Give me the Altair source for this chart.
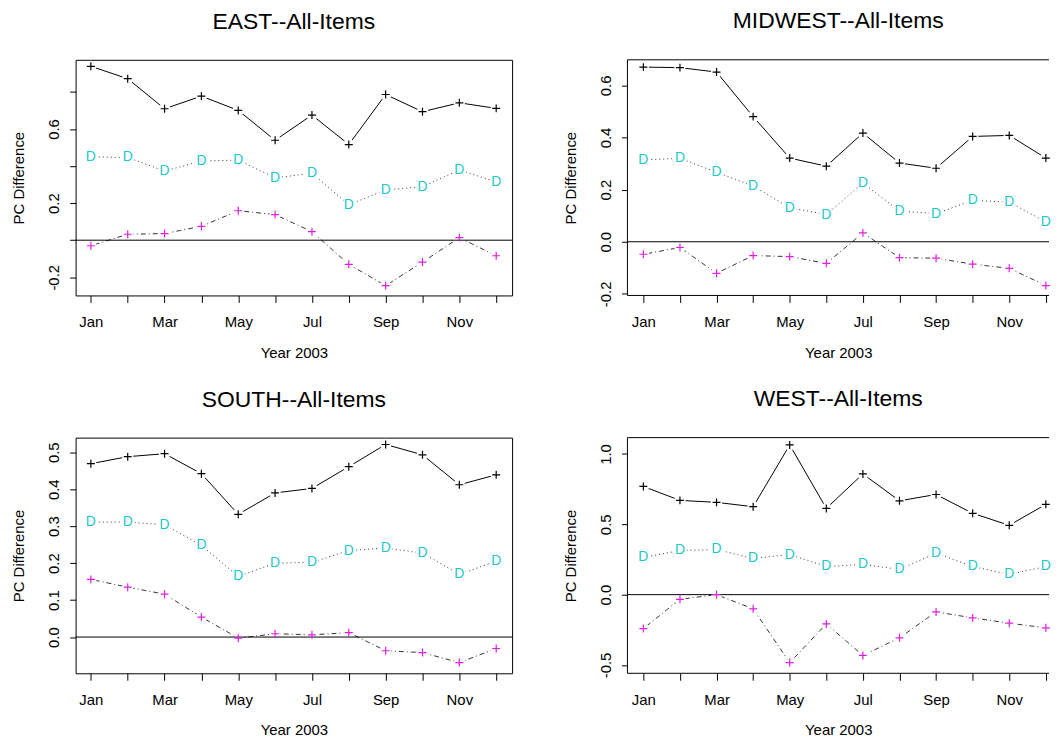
import altair as alt
import pandas as pd

months = ["Jan", "Feb", "Mar", "Apr", "May", "Jun", "Jul", "Aug", "Sep", "Oct", "Nov", "Dec"]
month_num = list(range(1, 13))

east_top = [0.938, 0.871, 0.709, 0.777, 0.700, 0.539, 0.675, 0.516, 0.786, 0.693, 0.741, 0.711]
east_mid = [0.450, 0.446, 0.373, 0.427, 0.432, 0.336, 0.361, 0.191, 0.271, 0.289, 0.379, 0.314]
east_bot = [-0.030, 0.032, 0.036, 0.075, 0.159, 0.138, 0.046, -0.130, -0.245, -0.118, 0.014, -0.084]

midwest_top = [0.670, 0.668, 0.651, 0.480, 0.321, 0.290, 0.417, 0.302, 0.282, 0.404, 0.408, 0.321]
midwest_mid = [0.314, 0.320, 0.267, 0.213, 0.131, 0.104, 0.225, 0.118, 0.108, 0.159, 0.152, 0.076]
midwest_bot = [-0.048, -0.022, -0.121, -0.053, -0.057, -0.083, 0.034, -0.061, -0.063, -0.086, -0.102, -0.168]

south_top = [0.469, 0.488, 0.496, 0.442, 0.332, 0.390, 0.402, 0.461, 0.521, 0.493, 0.412, 0.439]
south_mid = [0.311, 0.311, 0.304, 0.248, 0.164, 0.200, 0.202, 0.234, 0.241, 0.227, 0.170, 0.205]
south_bot = [0.156, 0.135, 0.116, 0.054, -0.003, 0.009, 0.006, 0.012, -0.037, -0.042, -0.069, -0.031]

west_top = [0.769, 0.670, 0.656, 0.625, 1.064, 0.613, 0.858, 0.667, 0.712, 0.578, 0.493, 0.642]
west_mid = [0.264, 0.314, 0.321, 0.257, 0.285, 0.200, 0.215, 0.179, 0.295, 0.200, 0.144, 0.200]
west_bot = [-0.241, -0.033, 0.000, -0.101, -0.483, -0.208, -0.432, -0.307, -0.123, -0.165, -0.203, -0.236]

FONT = "Liberation Sans"
PLUS = "M-1,0L1,0M0,-1L0,1"
CYAN = "#1CC8C8"
MAGENTA = "#E01EE0"
H = 237
LEFT_W, LEFT_XDOM = 439, [0.586, 12.432]
RIGHT_W, RIGHT_XDOM = 424, [0.565, 12.087]   # right column runs off the page edge

month_expr = "[" + ",".join(f"'{m}'" for m in months) + "]"
x_label_expr = f"datum.value % 2 == 1 ? {month_expr}[datum.value - 1] : ''"


def panel(title, top, mid, bot, domain, yticks, ylabels, width, xdom, open_right=False):
    df = pd.DataFrame({"month": month_num, "top": top, "mid": mid, "bot": bot})
    zero_df = pd.DataFrame({"zero": [0.0]})
    xenc = alt.X(
        "month:Q",
        scale=alt.Scale(domain=xdom, nice=False, zero=False),
        axis=alt.Axis(values=month_num, labelExpr=x_label_expr, title="Year 2003",
                      tickSize=7, labelPadding=12, titlePadding=16, labelAngle=0),
    )
    label_list = "[" + ",".join(repr(v) for v in ylabels) + "]"
    y_label_expr = (f"indexof({label_list}, datum.value) >= 0 ? "
                    f"replace(format(datum.value, '.1f'), '\u2212', '-') : ''")
    yaxis = alt.Axis(values=yticks, labelExpr=y_label_expr, title="PC Difference",
                     labelAngle=270, tickSize=6, labelPadding=8, titlePadding=20)
    yscale = alt.Scale(domain=domain, nice=False, zero=False)

    def Y(field):
        return alt.Y(f"{field}:Q", scale=yscale, axis=yaxis)

    base = alt.Chart(df)
    zero = alt.Chart(zero_df).mark_rule(color="black", strokeWidth=1).encode(y=Y("zero"))
    top_line = base.mark_line(color="black", strokeWidth=1).encode(x=xenc, y=Y("top"))
    mid_line = base.mark_line(color="#333333", strokeWidth=1, strokeDash=[1, 3]).encode(x=xenc, y=Y("mid"))
    bot_line = base.mark_line(color="#333333", strokeWidth=1, strokeDash=[1, 3, 5, 3]).encode(x=xenc, y=Y("bot"))
    # white gaps round the points, as with R's type="b"
    halo_top = base.mark_circle(color="white", opacity=1, size=130).encode(x=xenc, y=Y("top"))
    halo_mid = base.mark_circle(color="white", opacity=1, size=190).encode(x=xenc, y=Y("mid"))
    halo_bot = base.mark_circle(color="white", opacity=1, size=130).encode(x=xenc, y=Y("bot"))
    top_pts = base.mark_point(shape=PLUS, size=64, filled=False, stroke="black",
                              strokeWidth=1.2, opacity=1).encode(x=xenc, y=Y("top"))
    mid_txt = base.mark_text(text="D", color=CYAN, font=FONT, fontSize=14,
                             baseline="middle", align="center").encode(x=xenc, y=Y("mid"))
    bot_pts = base.mark_point(shape=PLUS, size=64, filled=False, stroke=MAGENTA,
                              strokeWidth=1.2, opacity=1).encode(x=xenc, y=Y("bot"))
    layers = [top_line, mid_line, bot_line, halo_top, halo_mid, halo_bot, zero,
              top_pts, mid_txt, bot_pts]
    props = dict(
        width=width, height=H,
        title=alt.TitleParams(title, fontSize=23, font=FONT, fontWeight="normal",
                              anchor="middle", offset=8, baseline="alphabetic", color="black"),
    )
    if open_right:
        frame = alt.Chart(zero_df)
        layers += [
            frame.mark_rule(color="black", strokeWidth=1).encode(y=alt.value(0)),
            frame.mark_rule(color="black", strokeWidth=1).encode(y=alt.value(H)),
            frame.mark_rule(color="black", strokeWidth=1).encode(x=alt.value(0)),
        ]
        props["view"] = alt.ViewBackground(stroke="transparent")
    return alt.layer(*layers).properties(**props)


east = panel("EAST--All-Items", east_top, east_mid, east_bot, [-0.298, 0.973],
             [-0.2, 0.0, 0.2, 0.4, 0.6, 0.8], [-0.2, 0.2, 0.6], LEFT_W, LEFT_XDOM)
midwest = panel("MIDWEST--All-Items", midwest_top, midwest_mid, midwest_bot, [-0.206, 0.698],
                [-0.2, 0.0, 0.2, 0.4, 0.6], [-0.2, 0.0, 0.2, 0.4, 0.6],
                RIGHT_W, RIGHT_XDOM, open_right=True)
south = panel("SOUTH--All-Items", south_top, south_mid, south_bot, [-0.098, 0.5395],
              [0.0, 0.1, 0.2, 0.3, 0.4, 0.5], [0.0, 0.1, 0.2, 0.3, 0.4, 0.5], LEFT_W, LEFT_XDOM)
west = panel("WEST--All-Items", west_top, west_mid, west_bot, [-0.559, 1.116],
             [-0.5, 0.0, 0.5, 1.0], [-0.5, 0.0, 0.5, 1.0],
             RIGHT_W, RIGHT_XDOM, open_right=True)

chart = alt.vconcat(
    alt.hconcat(east, midwest, spacing=50),
    alt.hconcat(south, west, spacing=50),
    spacing=27,
).properties(
    padding={"left": 3, "top": 0, "right": 0, "bottom": 0},
    background="white",
).configure_view(
    stroke="black", strokeWidth=1,
).configure_axis(
    grid=False, domain=False, labelFont=FONT, labelFontSize=15, labelColor="black",
    titleFont=FONT, titleFontSize=15, titleFontWeight="normal", titleColor="black",
    tickColor="black", tickWidth=1, labelOverlap=False,
)

chart.save("out.html", embed_options={"renderer": "svg", "actions": False})
